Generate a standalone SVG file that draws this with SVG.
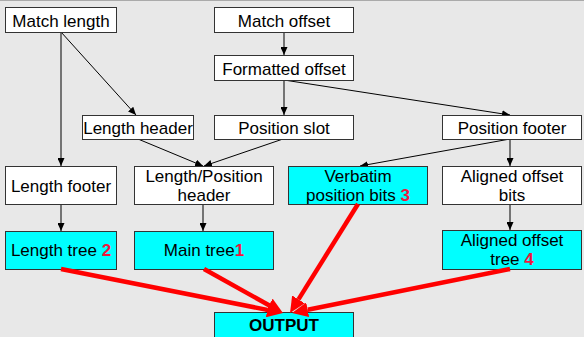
<svg xmlns="http://www.w3.org/2000/svg" width="584" height="337" viewBox="0 0 584 337">
  <defs>
    <style>
      .box { fill: #ffffff; stroke: #333333; stroke-width: 1; }
      .out { fill: #00ffff; stroke: #333333; stroke-width: 1; }
      .lbl { font-family: "Liberation Sans", Arial, sans-serif; font-size: 17px; fill: #000000; text-anchor: middle; }
      .num { fill: #f0143c; font-weight: bold; }
      .bold { font-weight: bold; }
      .edge { stroke: #000000; stroke-width: 1; fill: none; marker-end: url(#arr); }
      .main { stroke: #ff0000; stroke-width: 4.5; fill: none; marker-end: url(#bigarr); }
    </style>
    <marker id="arr" markerUnits="userSpaceOnUse" markerWidth="9" markerHeight="7" refX="8" refY="3.5" orient="auto">
      <path d="M0,0 L8,3.5 L0,7 z" fill="#000000"/>
    </marker>
    <marker id="bigarr" markerUnits="userSpaceOnUse" markerWidth="17" markerHeight="15" refX="0" refY="7.5" orient="auto">
      <path d="M0,0 L16,7.5 L0,15 z" fill="#ff0000"/>
    </marker>
  </defs>

  <rect x="0" y="0" width="584" height="337" fill="#e8e8e8"/>
  <line x1="0" y1="0.5" x2="584" y2="0.5" stroke="#aaaaaa" stroke-width="1"/>

  <g id="connectors">
    <path class="edge" d="M61,32 L61,166"/>
    <path class="edge" d="M61,32 L136,115"/>
    <path class="edge" d="M284,32 L284,55"/>
    <path class="edge" d="M284,80 L284,115"/>
    <path class="edge" d="M284,80 L510,115"/>
    <path class="edge" d="M138,139 L203,166"/>
    <path class="edge" d="M283,139 L204,166"/>
    <path class="edge" d="M510,139 L360,166"/>
    <path class="edge" d="M510,139 L510,166"/>
    <path class="edge" d="M61,204 L61,231"/>
    <path class="edge" d="M203,204 L203,231"/>
    <path class="edge" d="M510,204 L510,230"/>
  </g>

  <g id="match-length">
    <rect class="box" x="5.5" y="7.5" width="111" height="25"/>
    <text class="lbl" x="61" y="26.5">Match length</text>
  </g>
  <g id="match-offset">
    <rect class="box" x="214.5" y="7.5" width="139" height="25"/>
    <text class="lbl" x="284" y="26.5">Match offset</text>
  </g>
  <g id="formatted-offset">
    <rect class="box" x="214.5" y="55.5" width="139" height="25"/>
    <text class="lbl" x="284" y="74.5">Formatted offset</text>
  </g>
  <g id="length-header">
    <rect class="box" x="82.5" y="115.5" width="111" height="24"/>
    <text class="lbl" x="138" y="133.5">Length header</text>
  </g>
  <g id="position-slot">
    <rect class="box" x="214.5" y="115.5" width="139" height="24"/>
    <text class="lbl" x="284" y="133.5">Position slot</text>
  </g>
  <g id="position-footer">
    <rect class="box" x="442.5" y="115.5" width="139" height="24"/>
    <text class="lbl" x="512" y="133.5">Position footer</text>
  </g>
  <g id="length-footer">
    <rect class="box" x="5.5" y="166.5" width="111" height="38"/>
    <text class="lbl" x="61" y="191.5">Length footer</text>
  </g>
  <g id="length-position-header">
    <rect class="box" x="134.5" y="166.5" width="139" height="38"/>
    <text class="lbl" x="204" y="181.5">Length/Position</text>
    <text class="lbl" x="204" y="201">header</text>
  </g>
  <g id="verbatim-bits">
    <rect class="out" x="288.5" y="166.5" width="139" height="38"/>
    <text class="lbl" x="358" y="181.5">Verbatim</text>
    <text class="lbl" x="358" y="201">position bits <tspan class="num">3</tspan></text>
  </g>
  <g id="aligned-offset-bits">
    <rect class="box" x="442.5" y="166.5" width="139" height="38"/>
    <text class="lbl" x="512" y="181.5">Aligned offset</text>
    <text class="lbl" x="512" y="201">bits</text>
  </g>
  <g id="length-tree">
    <rect class="out" x="5.5" y="231.5" width="111" height="38"/>
    <text class="lbl" x="61" y="256">Length tree <tspan class="num">2</tspan></text>
  </g>
  <g id="main-tree">
    <rect class="out" x="134.5" y="231.5" width="139" height="38"/>
    <text class="lbl" x="204" y="256">Main tree<tspan class="num">1</tspan></text>
  </g>
  <g id="aligned-offset-tree">
    <rect class="out" x="442.5" y="230.5" width="139" height="39"/>
    <text class="lbl" x="512" y="245.5">Aligned offset</text>
    <text class="lbl" x="512" y="264.5">tree <tspan class="num">4</tspan></text>
  </g>
  <g id="output">
    <rect class="out" x="214.5" y="312.5" width="139" height="30"/>
    <text class="lbl bold" x="284" y="331">OUTPUT</text>
  </g>

  <g id="output-connectors">
    <path class="main" d="M61,269 L267.3,309.9"/>
    <path class="main" d="M204,269 L269,305.2"/>
    <path class="main" d="M358,204 L298.5,299.4"/>
    <path class="main" d="M510,269 L307.7,309.8"/>
  </g>
</svg>
